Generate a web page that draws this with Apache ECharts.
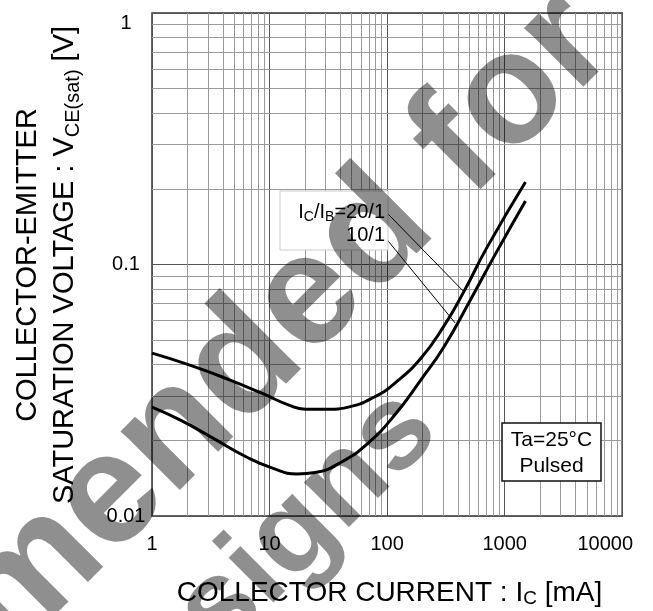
<!DOCTYPE html>
<html><head><meta charset="utf-8">
<script src="https://cdn.jsdelivr.net/npm/echarts@6/dist/echarts.min.js"></script>
<style>html,body{margin:0;padding:0;background:#fff}#c{width:653px;height:611px}</style>
</head><body><div id="c"></div>
<script>
// ---- data ----
const xTicks = [1, 10, 100, 1000, 10000];
const yTicks = [0.01, 0.1, 1];
const minorX = [2,3,4,5,6,7,8,9,20,30,40,50,60,70,80,90,200,300,400,500,600,700,800,900,2000,3000,4000,5000,6000,7000,8000,9000];
const minorY = [0.02,0.03,0.04,0.05,0.06,0.07,0.08,0.09,0.2,0.3,0.4,0.5,0.6,0.7,0.8,0.9];
// IC/IB = 20/1
const ic20  = [1, 2.1, 4.56, 8.7, 14.6, 20.2, 31.7, 46.8, 78.5, 116, 194, 305, 450, 706, 1504];
const vce20 = [0.0444, 0.0398, 0.0348, 0.0307, 0.0276, 0.0266, 0.0266, 0.0271, 0.0298, 0.0337, 0.0424, 0.057, 0.078, 0.1167, 0.213];
// IC/IB = 10/1
const ic10  = [1, 1.73, 3.30, 6.31, 10.6, 17.2, 24.5, 41, 68.9, 116, 194, 305, 511, 857, 1504];
const vce10 = [0.0271, 0.0241, 0.0204, 0.0172, 0.0155, 0.0147, 0.0149, 0.0164, 0.0195, 0.0252, 0.0348, 0.0471, 0.0723, 0.1125, 0.179];
// leader lines (label -> curve)
const lead20x = [97.7, 443];
const lead20y = [0.162, 0.0785];
const lead10x = [95.8, 380];
const lead10y = [0.1286, 0.0585];

const FONT = '"Liberation Sans", Arial, Helvetica, sans-serif';
const pairs = (xs, ys) => xs.map((x, i) => [x, ys[i]]);
const nearest = (arr, v) => arr.reduce((b, t) => Math.abs(Math.log10(t) - Math.log10(v)) < Math.abs(Math.log10(b) - Math.log10(v)) ? t : b, arr[0]);

const chart = echarts.init(document.getElementById('c'), null, {renderer: 'canvas'});
const option = {
  animation: false,
  backgroundColor: '#fff',
  grid: {left: 152, right: 26, top: 13, bottom: 95, show: true, borderColor: '#333', borderWidth: 1.5, backgroundColor: 'transparent'},
  xAxis: {
    type: 'log', logBase: 10, min: xTicks[0], max: xTicks[xTicks.length - 1],
    axisLine: {show: false}, axisTick: {show: false},
    splitLine: {show: true, lineStyle: {color: '#555', width: 1}},
    axisLabel: {
      fontSize: 20, color: '#000', fontFamily: FONT, margin: 18,
      formatter: v => { const t = nearest(xTicks, v); return t === xTicks[xTicks.length - 1] ? '{a|' + t + '}{sp|}' : String(t); },
      rich: {a: {fontSize: 20, color: '#000', fontFamily: FONT}, sp: {width: 34}}
    }
  },
  yAxis: {
    type: 'log', logBase: 10, min: yTicks[0], max: yTicks[yTicks.length - 1],
    axisLine: {show: false}, axisTick: {show: false},
    splitLine: {show: true, lineStyle: {color: '#555', width: 1}},
    axisLabel: {
      fontSize: 20, color: '#000', fontFamily: FONT, margin: 26, align: 'center',
      verticalAlignMaxLabel: 'top',
      formatter: v => String(nearest(yTicks, v))
    }
  },
  series: [
    {
      type: 'line', data: [], z: 1, silent: true,
      markLine: {
        silent: true, symbol: ['none', 'none'], animation: false, label: {show: false},
        lineStyle: {color: '#9a9a9a', width: 1, type: 'solid'},
        emphasis: {disabled: true},
        data: minorX.map(v => ({xAxis: v})).concat(minorY.map(v => ({yAxis: v})))
      }
    },
    {type: 'line', data: pairs(ic20, vce20), smooth: 0.5, showSymbol: false, z: 5, silent: true,
     lineStyle: {color: '#000', width: 3}},
    {type: 'line', data: pairs(ic10, vce10), smooth: 0.5, showSymbol: false, z: 5, silent: true,
     lineStyle: {color: '#000', width: 3}},
    {type: 'line', data: pairs(lead20x, lead20y), showSymbol: false, z: 6, silent: true,
     lineStyle: {color: '#000', width: 1}},
    {type: 'line', data: pairs(lead10x, lead10y), showSymbol: false, z: 6, silent: true,
     lineStyle: {color: '#000', width: 1}}
  ],
  graphic: [
    // IC/IB label box
    {type: 'rect', z: 10, shape: {x: 280, y: 191, width: 108, height: 59}, style: {fill: '#fff', stroke: '#ccc', lineWidth: 1}},
    {type: 'text', z: 11, x: 385, y: 212, style: {
      text: '{t|I}{s|C}{t|/I}{s|B}{t|=20/1}', align: 'right', verticalAlign: 'middle',
      rich: {t: {fontSize: 20, lineHeight: 24, fontFamily: FONT, fill: '#000'},
             s: {fontSize: 14, lineHeight: 14, verticalAlign: 'bottom', fontFamily: FONT, fill: '#000'}}}},
    {type: 'text', z: 11, x: 385, y: 235, style: {text: '10/1', align: 'right', verticalAlign: 'middle', font: '20px ' + FONT, fill: '#000'}},
    // Ta box
    {type: 'rect', z: 10, shape: {x: 502, y: 423, width: 99, height: 58}, style: {fill: '#fff', stroke: '#111', lineWidth: 1.5}},
    {type: 'text', z: 11, x: 551.5, y: 440, style: {text: 'Ta=25°C', align: 'center', verticalAlign: 'middle', font: '21px ' + FONT, fill: '#000'}},
    {type: 'text', z: 11, x: 551.5, y: 466, style: {text: 'Pulsed', align: 'center', verticalAlign: 'middle', font: '21px ' + FONT, fill: '#000'}},
    // x title
    {type: 'text', z: 11, x: 389.5, y: 593, style: {
      text: '{t|COLLECTOR CURRENT : I}{s|C}{t| [mA]}', align: 'center', verticalAlign: 'middle',
      rich: {t: {fontSize: 28, lineHeight: 30, fontFamily: FONT, fill: '#000'},
             s: {fontSize: 19, lineHeight: 16, verticalAlign: 'bottom', fontFamily: FONT, fill: '#000'}}}},
    // y title
    {type: 'text', z: 11, x: 46.5, y: 265, rotation: Math.PI / 2, style: {
      text: '{t|COLLECTOR-EMITTER}\n{t|SATURATION VOLTAGE : V}{s|CE(sat)}{t| [V]}', align: 'center', verticalAlign: 'middle',
      rich: {t: {fontSize: 29, lineHeight: 37, fontFamily: FONT, fill: '#000', align: 'center'},
             s: {fontSize: 20, lineHeight: 22, verticalAlign: 'bottom', fontFamily: FONT, fill: '#000'}}}},
    // watermark
    {type: 'text', z: 100, silent: true, x: 644, y: 76, rotation: Math.PI / 4, style: {
      text: 'Not Recommended for', align: 'right', verticalAlign: 'bottom', font: 'bold 158px ' + FONT, fill: 'rgba(0,0,0,0.44)'}},
    {type: 'text', z: 100, silent: true, x: 461, y: 453, rotation: Math.PI / 4, style: {
      text: 'New Designs', align: 'right', verticalAlign: 'bottom', font: 'bold 120px ' + FONT, fill: 'rgba(0,0,0,0.44)'}}
  ]
};
chart.setOption(option);
</script>
</body></html>
